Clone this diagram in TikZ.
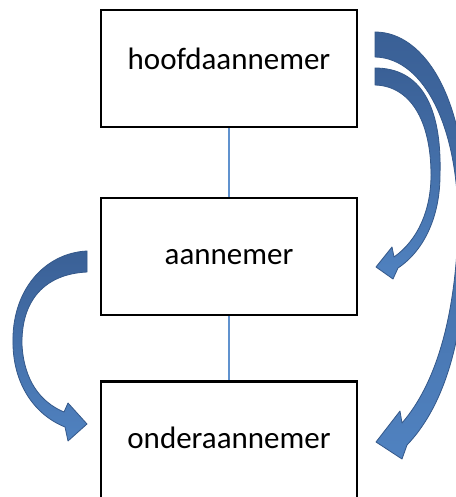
\documentclass[tikz,border=0pt]{standalone}
\usepackage{fontspec}
\setmainfont{Carlito}
\definecolor{pijldonker}{RGB}{58,96,150}
\definecolor{pijllicht}{RGB}{80,130,192}
\definecolor{pijlrand}{RGB}{52,88,138}
\definecolor{lijnblauw}{RGB}{96,146,206}
\begin{document}
\begin{tikzpicture}[x=1bp,y=-1bp,
	vak/.style={draw,line width=2.6bp,minimum width=256bp,minimum height=117bp,inner sep=0pt,
		font=\fontsize{31bp}{37bp}\selectfont,text height=16bp,text depth=0bp},
	lijn/.style={draw=lijnblauw,line width=1.2bp},
	pijl/.style={top color=pijldonker,bottom color=pijllicht,draw=pijlrand,line width=0.8bp,line join=round}]
		\useasboundingbox (0,0) rectangle (456,497);
		\clip (0,0) rectangle (456,497);
		\fill[white] (0,0) rectangle (456,497);
		\node[vak,text depth=14bp] (hoofd) at (229,68.5) {hoofdaannemer};
		\node[vak] (aannemer) at (229,256.5) {aannemer};
		\node[vak] (onder) at (229,440) {onderaannemer};
		\draw[lijn] (hoofd) -- (aannemer);
		\draw[lijn] (aannemer) -- (onder);
		% links: aannemer naar onderaannemer
		\draw[pijl] (87,251) .. controls (45,253) and (11,290) .. (13,345)
			.. controls (14,385) and (35,415) .. (65,427) -- (68,441) -- (87,424) -- (68,403) -- (64,412)
			.. controls (40,402) and (24,380) .. (22,345) .. controls (21,300) and (45,274) .. (87,272) -- cycle;
		% rechts: hoofdaannemer naar onderaannemer
		\draw[pijl] (375,32) .. controls (425,32) and (468,100) .. (466,220)
			.. controls (468,320) and (450,400) .. (407,445) -- (402,459) -- (376,442) -- (400,411) -- (402,423)
			.. controls (435,385) and (455,320) .. (458,230) .. controls (460,130) and (425,58) .. (375,57) -- cycle;
		% rechts: hoofdaannemer naar aannemer
		\draw[pijl] (375,68) .. controls (420,68) and (442,105) .. (440,175)
			.. controls (440,215) and (425,250) .. (398,268) -- (393,279) -- (376,267) -- (392,247) -- (394,257)
			.. controls (418,240) and (431,210) .. (431,175) .. controls (431,120) and (410,86) .. (375,85) -- cycle;
\end{tikzpicture}
\end{document}
